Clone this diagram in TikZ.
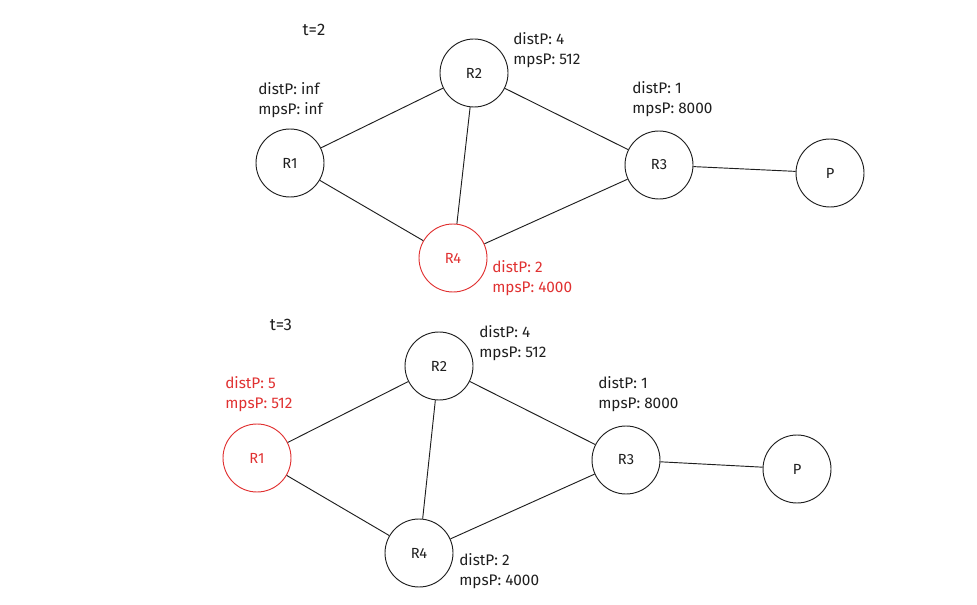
\documentclass[tikz,border=0pt]{standalone}
\usepackage{fontspec}
\setmainfont{Fira Sans}
\definecolor{ink}{HTML}{1E1E1E}
\definecolor{hot}{HTML}{E03131}
\tikzset{
  router/.style={circle, draw=ink, line width=0.7pt, minimum size=51pt, inner sep=0pt,
    font=\fontsize{11}{12}\selectfont, text=ink},
  changed/.style={router, draw=hot, text=hot},
  info/.style={anchor=west, align=left, inner sep=0pt, text=ink,
    font=\fontsize{11.5}{15}\selectfont},
  infohot/.style={info, text=hot},
  stamp/.style={inner sep=0pt, text=ink, font=\fontsize{12.5}{14}\selectfont},
  link/.style={draw=ink, line width=0.7pt}
}
\begin{document}
\begin{tikzpicture}[x=0.75pt, y=-0.75pt]
  \useasboundingbox (0,0) rectangle (977,605);

  % ---- t = 2 ----
  \node[stamp] (t2) at (314,30) {t=2};
  \node[router]  (a1) at (290,163) {R1};
  \node[router]  (a2) at (474,73)  {R2};
  \node[router]  (a3) at (659,165) {R3};
  \node[router]  (ap) at (830,173) {P};
  \node[changed] (a4) at (453,258) {R4};

  \draw[link] (a1) -- (a2);
  \draw[link] (a1) -- (a4);
  \draw[link] (a2) -- (a4);
  \draw[link] (a2) -- (a3);
  \draw[link] (a4) -- (a3);
  \draw[link] (a3) -- (ap);

  \node[info]    (a1i) at (258,100) {distP: inf\\mpsP: inf};
  \node[info]    (a2i) at (513,50)  {distP: 4\\mpsP: 512};
  \node[info]    (a3i) at (632,99)  {distP: 1\\mpsP: 8000};
  \node[infohot] (a4i) at (492,278) {distP: 2\\mpsP: 4000};

  % ---- t = 3 ----
  \node[stamp] (t3) at (281,325) {t=3};
  \node[changed] (b1) at (257,458) {R1};
  \node[router]  (b2) at (439,366) {R2};
  \node[router]  (b3) at (626,460) {R3};
  \node[router]  (bp) at (797,469) {P};
  \node[router]  (b4) at (419,553) {R4};

  \draw[link] (b1) -- (b2);
  \draw[link] (b1) -- (b4);
  \draw[link] (b2) -- (b4);
  \draw[link] (b2) -- (b3);
  \draw[link] (b4) -- (b3);
  \draw[link] (b3) -- (bp);

  \node[infohot] (b1i) at (225,394) {distP: 5\\mpsP: 512};
  \node[info]    (b2i) at (479,343) {distP: 4\\mpsP: 512};
  \node[info]    (b3i) at (598,394) {distP: 1\\mpsP: 8000};
  \node[info]    (b4i) at (459,571) {distP: 2\\mpsP: 4000};
\end{tikzpicture}
\end{document}
